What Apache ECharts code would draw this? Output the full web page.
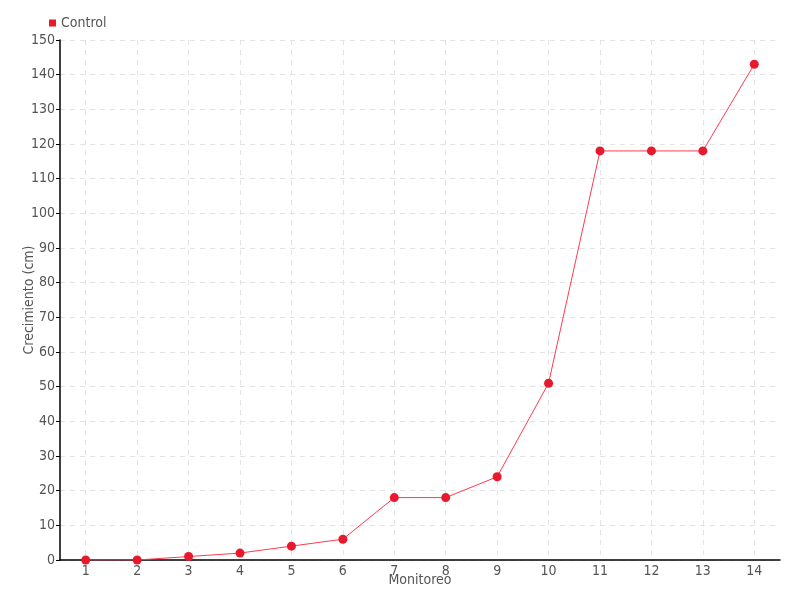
<!DOCTYPE html>
<html><head><meta charset="utf-8">
<script src="https://cdn.jsdelivr.net/npm/echarts@6/dist/echarts.min.js"></script>
<style>html,body{margin:0;padding:0;background:#fff}#c{width:800px;height:600px}</style>
</head><body><div id="c"></div>
<script>
const categories = ['1','2','3','4','5','6','7','8','9','10','11','12','13','14'];
const controlValues = [0, 0, 1, 2, 4, 6, 18, 18, 24, 51, 118, 118, 118, 143];
const seriesName = 'Control';
const FONT = "'DejaVu Sans Condensed', 'Liberation Sans Narrow', sans-serif";
const chart = echarts.init(document.getElementById('c'));
chart.setOption({
  animation: false,
  textStyle: { fontFamily: FONT },
  legend: {
    left: 44, top: 11, itemWidth: 7, itemHeight: 7, itemGap: 3,
    icon: 'rect',
    textStyle: { fontFamily: FONT, fontSize: 14, color: '#555' },
    data: [seriesName]
  },
  grid: { left: 60, right: 20, top: 40, bottom: 40, containLabel: false, outerBoundsMode: 'none' },
  xAxis: {
    type: 'category', data: categories, boundaryGap: true,
    name: 'Monitoreo', nameLocation: 'middle', nameGap: 13, nameMoveOverlap: false,
    nameTextStyle: { fontFamily: FONT, fontSize: 14, color: '#555' },
    axisLine: { lineStyle: { color: '#000', width: 1.5 } },
    axisTick: { alignWithLabel: true, length: 4, lineStyle: { color: '#000' } },
    axisLabel: { fontFamily: FONT, fontSize: 14, color: '#555', margin: 4 },
    splitLine: { show: true, alignWithLabel: true, lineStyle: { color: '#e3e3e3', type: [5, 5] } }
  },
  yAxis: {
    type: 'value', min: 0, max: 150, interval: 10,
    name: 'Crecimiento (cm)', nameLocation: 'middle', nameGap: 24, nameMoveOverlap: false,
    nameTextStyle: { fontFamily: FONT, fontSize: 14, color: '#555' },
    axisLine: { show: true, lineStyle: { color: '#000', width: 1.5 } },
    axisTick: { show: true, length: 4, lineStyle: { color: '#000' } },
    axisLabel: { fontFamily: FONT, fontSize: 14, color: '#555', margin: 5 },
    splitLine: { show: true, lineStyle: { color: '#e3e3e3', type: [5, 5] } }
  },
  series: [{
    name: seriesName, type: 'line', data: controlValues,
    symbol: 'circle', symbolSize: 9,
    itemStyle: { color: '#e8192c' },
    lineStyle: { color: '#ff3a4a', width: 1 }
  }]
});
</script></body></html>
